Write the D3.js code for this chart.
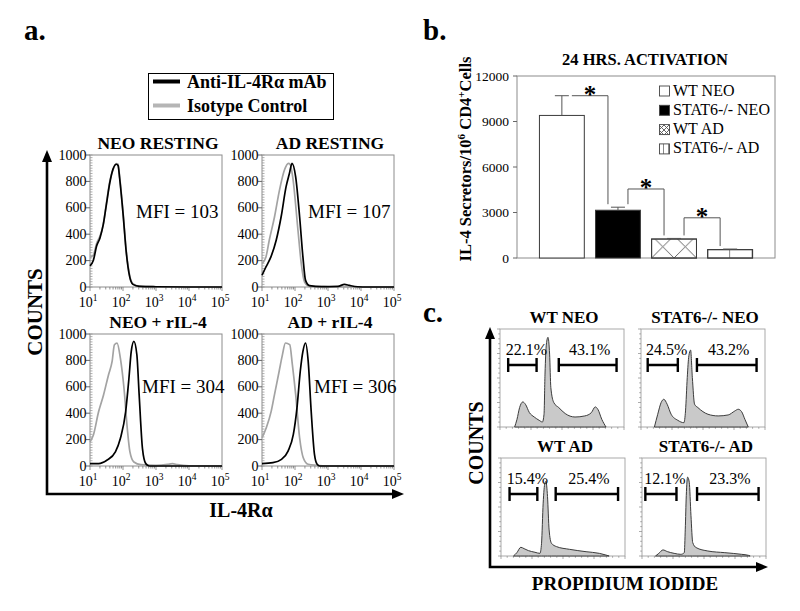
<!DOCTYPE html>
<html><head><meta charset="utf-8">
<script src="https://d3js.org/d3.v7.min.js"></script>
<style>
html,body{margin:0;padding:0;background:#fff}
svg{display:block}
text{font-family:"Liberation Serif","Times New Roman",Times,serif;fill:#000}
</style></head><body>
<svg id="fig" width="800" height="611" viewBox="0 0 800 611"></svg>
<script>
// ---------------- data: panel a (IL-4Rα flow histograms) ----------------
const flowTitles = ["NEO RESTING", "AD RESTING", "NEO + rIL-4", "AD + rIL-4"];
const flowMFI = [103, 107, 304, 306];
const flowYTicks = [0, 200, 400, 600, 800, 1000];
const flowXTickExponents = [1, 2, 3, 4, 5];
const legendALabels = ["Anti-IL-4Rα mAb", "Isotype Control"];
// [log10 intensity, counts]
const neoRestIso = [[1.0,225],[1.1,240],[1.2,330],[1.3,385],[1.4,470],[1.5,640],[1.6,800],[1.7,890],[1.8,935],[1.85,930],[1.9,830],[2.0,570],[2.1,270],[2.2,90],[2.3,25],[2.5,6],[3.0,2],[4.0,0],[5.0,0]];
const neoRestAnti = [[1.0,160],[1.1,200],[1.2,310],[1.3,370],[1.4,470],[1.5,630],[1.6,790],[1.7,895],[1.8,930],[1.85,920],[1.9,820],[2.0,560],[2.1,260],[2.2,80],[2.3,20],[2.5,5],[3.0,2],[4.0,0],[5.0,0]];
const adRestIso = [[1.0,177],[1.12,228],[1.22,354],[1.38,532],[1.53,734],[1.68,886],[1.8,937],[1.85,930],[1.93,835],[2.09,430],[2.19,177],[2.29,38],[2.44,5],[3.0,2],[4.0,0],[5.0,0]];
const adRestAnti = [[1.0,89],[1.12,152],[1.27,228],[1.43,354],[1.58,532],[1.73,760],[1.83,860],[1.91,937],[2.02,835],[2.14,532],[2.24,228],[2.32,50],[2.44,10],[2.8,3],[3.3,5],[3.5,20],[3.65,12],[3.9,2],[4.2,0],[5.0,0]];
const neoIl4Iso = [[1.0,183],[1.1,233],[1.26,411],[1.41,538],[1.56,690],[1.67,792],[1.74,919],[1.82,931],[1.92,817],[2.03,589],[2.13,284],[2.21,107],[2.33,30],[2.54,10],[3.0,5],[3.35,12],[3.5,18],[3.65,10],[4.0,2],[5.0,0]];
const neoIl4Anti = [[1.0,18],[1.26,18],[1.51,43],[1.77,107],[1.92,208],[2.08,411],[2.18,665],[2.25,868],[2.33,944],[2.42,843],[2.49,538],[2.59,132],[2.69,18],[2.8,0],[5.0,0]];
const adIl4Iso = [[1.0,214],[1.13,290],[1.28,416],[1.38,542],[1.52,718],[1.62,844],[1.71,932],[1.84,919],[1.92,768],[2.02,542],[2.14,214],[2.25,63],[2.4,13],[2.65,5],[3.0,0],[5.0,0]];
const adIl4Anti = [[1.0,18],[1.33,25],[1.59,50],[1.79,113],[1.95,239],[2.06,441],[2.16,718],[2.24,869],[2.32,932],[2.4,793],[2.49,416],[2.59,88],[2.67,13],[2.75,0],[5.0,0]];

// ---------------- data: panel b (IL-4 secretors bar chart) ----------------
const barTitle = "24 HRS. ACTIVATION";
const barCategories = ["WT NEO", "STAT6-/- NEO", "WT AD", "STAT6-/- AD"];
const barValues = [9400, 3150, 1250, 550];
const barErrors = [1300, 200, 40, 40];
const barYTicks = [0, 3000, 6000, 9000, 12000];
const sigBrackets = [[0, 1, 10700], [1, 2, 4550], [2, 3, 2650]]; // [from, to, bracket level]

// ---------------- data: panel c (propidium iodide histograms) ----------------
const cycleTitles = ["WT NEO", "STAT6-/- NEO", "WT AD", "STAT6-/- AD"];
const cycleLeftPct = ["22.1%", "24.5%", "15.4%", "12.1%"];
const cycleRightPct = ["43.1%", "43.2%", "25.4%", "23.3%"];
const cycleLeftGates = [[6.6,29.5],[5.4,29.7],[6.9,29.3],[2.7,27.8]];
const cycleRightGates = [[47.4,94],[45.1,93.2],[44.1,94.4],[44.4,94]];
const wtNeoCycle = [[11.8,0],[13.7,7.8],[15.8,19.8],[18.4,25.6],[20.5,23.2],[23.7,14.7],[27.6,10.2],[31.6,6.8],[34.2,5.1],[35.5,13],[36.3,54],[37.4,84.6],[38.7,91.5],[40,74.4],[41,40.3],[43.4,24.9],[47.4,19.8],[52.6,13.7],[60.5,10.2],[68.4,11.3],[73.7,14.7],[76.8,20.5],[78.9,18.1],[82.1,7.8],[85.5,0]];
const stat6NeoCycle = [[10.8,0],[13.5,13],[16.2,24.9],[18.4,28.3],[21.1,23.2],[24.3,13],[29.7,6.8],[34.6,4.4],[35.9,16.4],[37.3,50.5],[38.6,72.7],[40,78.5],[41.4,50.5],[43.2,23.2],[45.9,19.8],[54,13],[62.2,11.3],[70.3,12.3],[75.7,16.4],[78.4,18.1],[81.1,15.7],[83.8,7.8],[86.5,0]];
const wtAdCycle = [[10.1,0],[12.8,3.4],[16,8.9],[18.6,7.5],[22.1,5.5],[27.4,3.8],[31.4,2.7],[32.7,13],[34,53.9],[35.4,74.4],[36.2,76.1],[37.5,60.8],[38.8,26.6],[40.7,13],[44.7,9.6],[55.3,6.8],[68.6,4.4],[79.3,2.7],[84.6,1],[87.2,0]];
const stat6AdCycle = [[10.9,0],[13.6,2.7],[16.9,6.2],[20.4,4.5],[25.9,2.7],[31.3,1.7],[34.1,3.4],[34.9,27.4],[35.7,61.6],[36.8,80.5],[38.1,75.3],[39.5,41.1],[40.9,13.7],[43.6,8.6],[53.1,5.1],[66.8,3.4],[80.4,1.7],[85.8,0.7],[87.2,0]];

// ======================================================================
const svg = d3.select("#fig");
const defs = svg.append("defs");

function addText(sel, x, y, s, size, weight, anchor) {
  return sel.append("text").attr("x", x).attr("y", y).text(s)
    .attr("font-size", size).attr("font-weight", weight || "normal")
    .attr("text-anchor", anchor || "start");
}
function arrowAxis(g, x0, y0, tipX, tipY) {
  g.append("path").attr("d", `M${x0},${tipY + 10}L${x0},${y0}L${tipX - 10},${y0}`)
    .attr("fill", "none").attr("stroke", "#000").attr("stroke-width", 2.6);
  g.append("path").attr("d", `M${x0 - 5},${tipY + 12}L${x0},${tipY}L${x0 + 5},${tipY + 12}Z`).attr("fill", "#000");
  g.append("path").attr("d", `M${tipX - 12},${y0 - 5}L${tipX},${y0}L${tipX - 12},${y0 + 5}Z`).attr("fill", "#000");
}

// ---------------- panel a ----------------
const gA = svg.append("g");
addText(gA, 24, 40, "a.", 29, "bold");
gA.append("rect").attr("x", 148.5).attr("y", 73.5).attr("width", 185).attr("height", 46)
  .attr("fill", "none").attr("stroke", "#000").attr("stroke-width", 1);
gA.append("line").attr("x1", 153).attr("x2", 180).attr("y1", 81.5).attr("y2", 81.5).attr("stroke", "#000").attr("stroke-width", 4);
gA.append("line").attr("x1", 153).attr("x2", 180).attr("y1", 105.5).attr("y2", 105.5).attr("stroke", "#b5b5b5").attr("stroke-width", 4);
addText(gA, 187, 88, legendALabels[0], 18, "bold");
addText(gA, 187, 112, legendALabels[1], 18, "bold");

arrowAxis(gA, 47, 494, 404, 150);
gA.append("text").attr("transform", "translate(42,312) rotate(-90)").attr("text-anchor", "middle")
  .attr("font-size", 21).attr("font-weight", "bold").text("COUNTS");
addText(gA, 241, 517, "IL-4Rα", 20, "bold", "middle");

const flowData = [[neoRestIso, neoRestAnti], [adRestIso, adRestAnti], [neoIl4Iso, neoIl4Anti], [adIl4Iso, adIl4Anti]];
const flowFrames = [[90, 155], [262, 155], [90, 334], [262, 334]];
const FW = 132, FH = 132;

flowTitles.forEach((title, i) => {
  const [x0, y0] = flowFrames[i];
  const row = i < 2 ? 0 : 1;
  const g = gA.append("g");
  const x = d3.scaleLog().domain([10, 1e5]).range([x0, x0 + FW]);
  const y = d3.scaleLinear().domain([0, 1000]).range([y0 + FH, y0]);
  g.append("rect").attr("x", x0).attr("y", y0).attr("width", FW).attr("height", FH)
    .attr("fill", "none").attr("stroke", "#8c8c8c").attr("stroke-width", 1);
  d3.range(0, 1001, 20).forEach(v => {
    g.append("line").attr("x1", x0).attr("x2", x0 + 2.5).attr("y1", y(v)).attr("y2", y(v))
      .attr("stroke", "#999").attr("stroke-width", 0.8);
  });
  flowYTicks.forEach(v => {
    g.append("line").attr("x1", x0 - 4).attr("x2", x0).attr("y1", y(v)).attr("y2", y(v)).attr("stroke", "#666");
    addText(g, x0 - 3.5, y(v) + 4.5, String(v), 14, "normal", "end");
  });
  x.ticks().forEach(v => {
    const major = Math.abs(Math.log10(v) - Math.round(Math.log10(v))) < 1e-6;
    g.append("line").attr("x1", x(v)).attr("x2", x(v)).attr("y1", y0 + FH).attr("y2", y0 + FH + (major ? 4 : 2.5))
      .attr("stroke", "#777").attr("stroke-width", 0.8);
  });
  flowXTickExponents.forEach(e => {
    const t = g.append("text").attr("x", x(Math.pow(10, e)) - 2).attr("y", y0 + FH + 20)
      .attr("text-anchor", "middle").attr("font-size", 14);
    t.append("tspan").text("10");
    t.append("tspan").attr("dy", -6).attr("font-size", 9.5).text(String(e));
  });
  const line = d3.line().x(d => x(Math.pow(10, d[0]))).y(d => y(d[1])).curve(d3.curveMonotoneX);
  g.append("path").datum(flowData[i][0]).attr("d", line).attr("fill", "none").attr("stroke", "#a3a3a3").attr("stroke-width", 1.7);
  g.append("path").datum(flowData[i][1]).attr("d", line).attr("fill", "none").attr("stroke", "#000").attr("stroke-width", 1.7);
  addText(g, x0 + FW / 2 + 2, y0 - 6, title, 17.5, "bold", "middle");
  addText(g, x0 + (row === 0 ? 46 : 52), y0 + (row === 0 ? 63 : 59), "MFI = " + flowMFI[i], 19);
});

// ---------------- panel b ----------------
const gB = svg.append("g");
addText(gB, 423, 40, "b.", 29, "bold");
const bL = 517, bR = 775, bT = 76, bB = 258;
const xb = d3.scaleBand().domain(barCategories).range([bL, bR]).paddingInner(0.2).paddingOuter(0.4);
const yb = d3.scaleLinear().domain([0, 12000]).range([bB, bT]);
addText(gB, 645, 65, barTitle, 16.5, "bold", "middle");
gB.append("rect").attr("x", bL).attr("y", bT).attr("width", bR - bL).attr("height", bB - bT)
  .attr("fill", "none").attr("stroke", "#8c8c8c").attr("stroke-width", 1);
barYTicks.forEach(v => {
  gB.append("line").attr("x1", bL - 4).attr("x2", bL).attr("y1", yb(v)).attr("y2", yb(v)).attr("stroke", "#666");
  addText(gB, bL - 8, yb(v) + 4.5, String(v), 13.5, "normal", "end");
});
const yl = gB.append("text").attr("transform", "translate(471,159) rotate(-90)").attr("text-anchor", "middle")
  .attr("font-size", 16.5).attr("font-weight", "bold");
yl.append("tspan").text("IL-4 Secretors/10");
yl.append("tspan").attr("dy", -6).attr("font-size", 11).text("6");
yl.append("tspan").attr("dy", 6).text(" CD4");
yl.append("tspan").attr("dy", -6).attr("font-size", 11).text("+");
yl.append("tspan").attr("dy", 6).text("Cells");

function crossPattern(id, px, py, s) {
  const p = defs.append("pattern").attr("id", id).attr("patternUnits", "userSpaceOnUse")
    .attr("x", px).attr("y", py).attr("width", s).attr("height", s);
  p.append("path").attr("d", `M0,0L${s},${s}M0,${s}L${s},0`).attr("stroke", "#555").attr("stroke-width", 0.9).attr("fill", "none");
}
function vertPattern(id, px, py, s, h) {
  const p = defs.append("pattern").attr("id", id).attr("patternUnits", "userSpaceOnUse")
    .attr("x", px).attr("y", py).attr("width", s).attr("height", h);
  p.append("line").attr("x1", s).attr("x2", s).attr("y1", 0).attr("y2", h).attr("stroke", "#555").attr("stroke-width", 1.4);
}
const bw = xb.bandwidth();
crossPattern("pCrossBar", xb(barCategories[2]), bB, bw / 2);
vertPattern("pVertBar", xb(barCategories[3]), bB, bw / 2, 40);
const barFills = ["#fff", "#000", "url(#pCrossBar)", "url(#pVertBar)"];

barCategories.forEach((c, i) => {
  const bx = xb(c), cx = bx + bw / 2;
  gB.append("rect").attr("x", bx).attr("y", yb(barValues[i])).attr("width", bw).attr("height", bB - yb(barValues[i]))
    .attr("fill", i >= 2 ? "#fff" : barFills[i]).attr("stroke", "#3a3a3a").attr("stroke-width", 1);
  if (i >= 2) gB.append("rect").attr("x", bx).attr("y", yb(barValues[i])).attr("width", bw).attr("height", bB - yb(barValues[i]))
    .attr("fill", barFills[i]).attr("stroke", "#3a3a3a").attr("stroke-width", 1);
  const top = yb(barValues[i] + barErrors[i]);
  gB.append("line").attr("x1", cx).attr("x2", cx).attr("y1", yb(barValues[i])).attr("y2", top).attr("stroke", "#555").attr("stroke-width", 1);
  gB.append("line").attr("x1", cx - 7).attr("x2", cx + 7).attr("y1", top).attr("y2", top).attr("stroke", "#555").attr("stroke-width", 1);
});
sigBrackets.forEach(([a, b, lvl]) => {
  const xa = xb(barCategories[a]) + bw / 2 + 10, xz = xb(barCategories[b]) + bw / 2 - 10;
  const yl0 = yb(lvl);
  const ya = Math.max(yl0, yb(barValues[a] + barErrors[a]) - 3);
  const yz = Math.max(yl0, yb(barValues[b] + barErrors[b]) - 3);
  gB.append("path").attr("d", `M${xa},${ya}L${xa},${yl0}L${xz},${yl0}L${xz},${yz}`)
    .attr("fill", "none").attr("stroke", "#555").attr("stroke-width", 1);
  addText(gB, (xa + xz) / 2, yl0 + 7, "*", 25, "bold", "middle");
});
crossPattern("pCrossSw", 659, 125, 5);
vertPattern("pVertSw", 659, 144, 5, 10);
const swFills = ["#fff", "#000", "url(#pCrossSw)", "url(#pVertSw)"];
barCategories.forEach((c, i) => {
  const sy = 86 + i * 19.3;
  gB.append("rect").attr("x", 659.5).attr("y", sy).attr("width", 10).attr("height", 10)
    .attr("fill", swFills[i]).attr("stroke", "#444").attr("stroke-width", 0.9);
  addText(gB, 673, sy + 9.5, c, 16);
});

// ---------------- panel c ----------------
const gC = svg.append("g");
addText(gC, 423, 322, "c.", 29, "bold");
arrowAxis(gC, 490, 567, 768, 327);
gC.append("text").attr("transform", "translate(483,443) rotate(-90)").attr("text-anchor", "middle")
  .attr("font-size", 20).attr("font-weight", "bold").text("COUNTS");
addText(gC, 625, 590, "PROPIDIUM IODIDE", 19, "bold", "middle");

const cycleData = [wtNeoCycle, stat6NeoCycle, wtAdCycle, stat6AdCycle];
const cycleFrames = [[500, 329], [641, 329], [501, 458], [642, 458]];
const CW = 124, CH = 98;
cycleTitles.forEach((title, i) => {
  const [x0, y0] = cycleFrames[i];
  const g = gC.append("g");
  const x = d3.scaleLinear().domain([0, 100]).range([x0, x0 + CW]);
  const y = d3.scaleLinear().domain([0, 100]).range([y0 + CH, y0]);
  g.append("rect").attr("x", x0).attr("y", y0).attr("width", CW).attr("height", CH)
    .attr("fill", "none").attr("stroke", "#a0a0a0").attr("stroke-width", 0.9);
  d3.range(0, 101, 5).forEach(v => {
    g.append("line").attr("x1", x(v)).attr("x2", x(v)).attr("y1", y0 + CH).attr("y2", y0 + CH + (v % 25 === 0 ? 3 : 1.8))
      .attr("stroke", "#888").attr("stroke-width", 0.7);
    g.append("line").attr("x1", x0).attr("x2", x0 - (v % 25 === 0 ? 3 : 1.8)).attr("y1", y(v)).attr("y2", y(v))
      .attr("stroke", "#888").attr("stroke-width", 0.7);
  });
  const area = d3.area().x(d => x(d[0])).y0(y(0)).y1(d => y(d[1])).curve(d3.curveMonotoneX);
  g.append("path").datum(cycleData[i]).attr("d", area).attr("fill", "#c9c9c9")
    .attr("stroke", "#3c3c3c").attr("stroke-width", 1);
  addText(g, x0 + CW / 2 + 2, y0 - 6, title, 17, "bold", "middle");
  const gy = y0 + 36;
  [cycleLeftGates[i], cycleRightGates[i]].forEach((gt, k) => {
    const xa = x(gt[0]), xz = x(gt[1]);
    g.append("path").attr("d", `M${xa},${gy - 7}L${xa},${gy + 7}M${xa},${gy}L${xz},${gy}M${xz},${gy - 7}L${xz},${gy + 7}`)
      .attr("fill", "none").attr("stroke", "#000").attr("stroke-width", 2.4);
    addText(g, (xa + xz) / 2 + (k === 0 ? 4 : 2), y0 + 26, k === 0 ? cycleLeftPct[i] : cycleRightPct[i], 16, "normal", "middle");
  });
});
</script>
</body></html>
